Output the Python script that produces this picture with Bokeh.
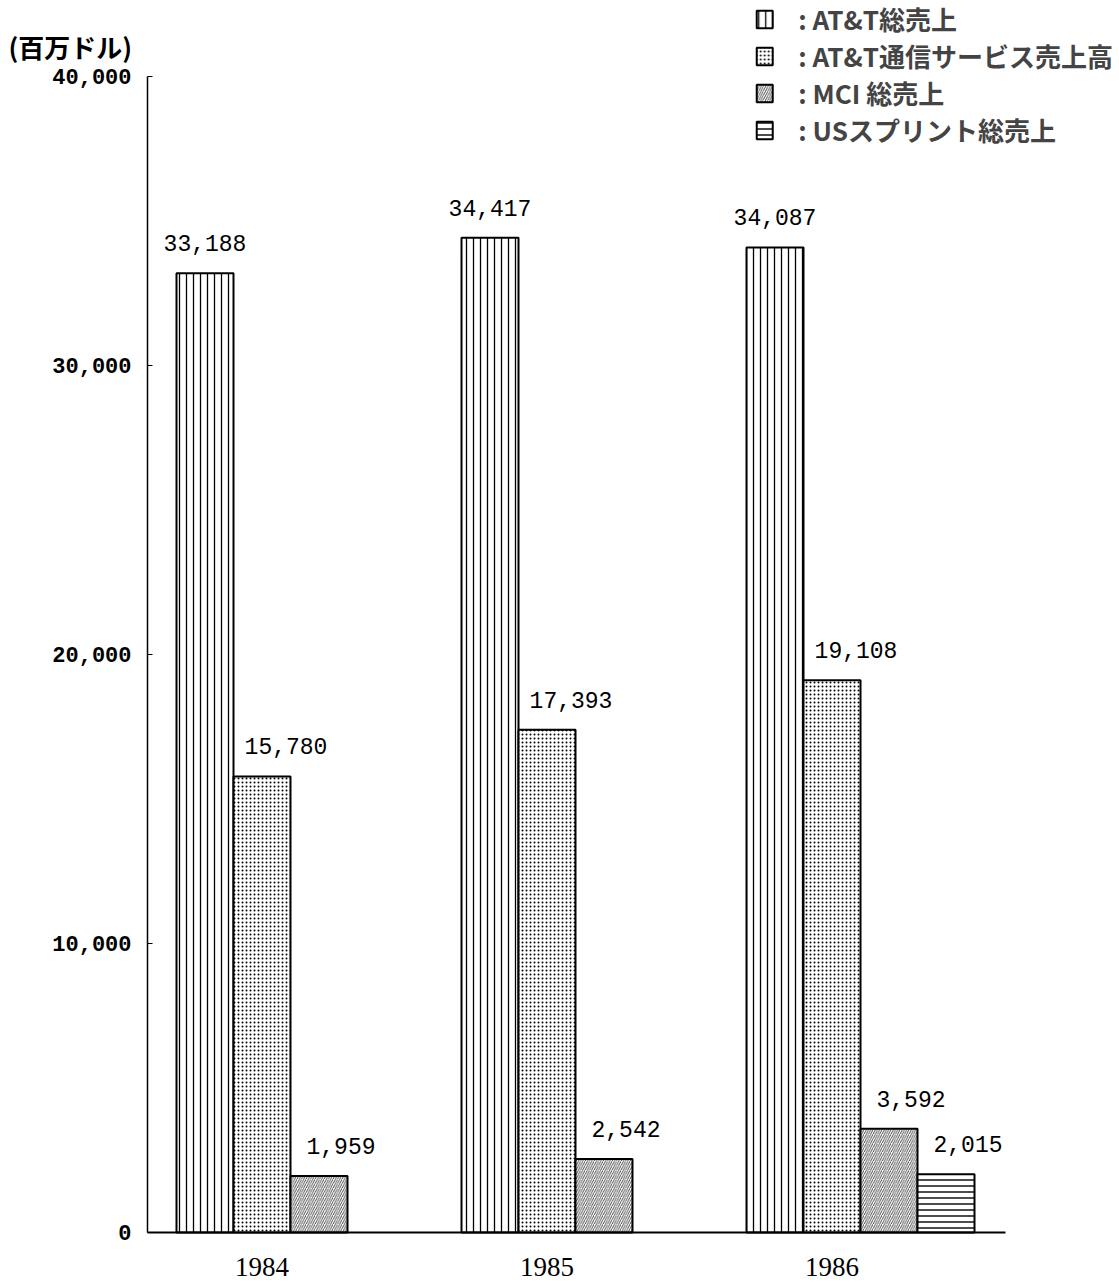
import numpy as np
import pandas as pd
from bokeh.plotting import figure
from bokeh.models import ColumnDataSource, FixedTicker, Legend, LegendItem
from bokeh.core.properties import value
from bokeh.embed import file_html
from bokeh.resources import INLINE

# ---------------- data ----------------
years = ["1984", "1985", "1986"]
att_total = [33188, 34417, 34087]
att_comm = [15780, 17393, 19108]
mci_total = [1959, 2542, 3592]
sprint_total = [np.nan, np.nan, 2015]
series_names = ["AT&T総売上", "AT&T通信サービス売上高", "MCI 総売上", "USスプリント総売上"]
y_ticks = [0, 10000, 20000, 30000, 40000]
y_tick_labels = ["0", "10,000", "20,000", "30,000", "40,000"]
unit_label = "(百万ドル)"

# ---------------- layout ----------------
W, H = 1113, 1283
base_px = 1232.0          # pixel row of value 0
val_per_px = 10000 / 289.0
px_per_unit = 57.0
first_bar_px = 176.0
x0 = -first_bar_px / px_per_unit
x1 = x0 + W / px_per_unit
axis_x = (147.0 - first_bar_px) / px_per_unit
y0 = -(H - base_px) * val_per_px
y1 = base_px * val_per_px

NUM_FONT = "Liberation Mono"
YEAR_FONT = "Liberation Serif"
JP_FONT = "Noto Sans CJK JP"

p = figure(width=W, height=H, output_backend="svg", toolbar_location=None,
           x_range=(x0, x1), y_range=(y0, y1),
           min_border_left=0, min_border_right=0, min_border_top=0,
           min_border_bottom=0, background_fill_color="white",
           border_fill_color="white", outline_line_color=None)
p.grid.visible = False

series = [att_total, att_comm, mci_total, sprint_total]
hatches = [("|", 7, 1.3), (".", 4, 1.0), ("/", 4.5, 0.7), ("-", 6, 1.4)]
label_dx = [0, 24, 22, 22]

bar_renderers = []
for k, (vals, (hp, hs, hw)) in enumerate(zip(series, hatches)):
    xs = [5 * g + k + 0.5 for g in range(len(years))]
    src = ColumnDataSource(dict(x=xs, top=vals))
    r = p.vbar(x="x", top="top", width=1.0, bottom=0, source=src,
               fill_color="white", line_color="black", line_width=2,
               hatch_pattern=hp, hatch_scale=hs, hatch_weight=hw,
               hatch_color="black")
    bar_renderers.append(r)
    lx, ly, lt = [], [], []
    for xv, v in zip(xs, vals):
        if v is None or (isinstance(v, float) and np.isnan(v)):
            continue
        lx.append(xv)
        ly.append(v)
        lt.append(f"{int(v):,}")
    lsrc = ColumnDataSource(dict(x=lx, y=ly, t=lt))
    p.text(x="x", y="y", text="t", source=lsrc, x_offset=label_dx[k], y_offset=-22,
           text_align="center", text_baseline="bottom",
           text_font=value(NUM_FONT), text_font_size="23px", text_color="black")

# y axis (drawn at a fixed location inside the frame)
yax = p.yaxis[0]
yax.fixed_location = axis_x
yax.ticker = FixedTicker(ticks=y_ticks)
yax.major_label_overrides = {t: l for t, l in zip(y_ticks, y_tick_labels)}
yax.bounds = (0, 40000)
yax.minor_tick_line_color = None
yax.major_tick_in = 5
yax.major_tick_out = 0
yax.axis_line_width = 1.5
yax.major_label_standoff = 16
yax.major_label_text_font = NUM_FONT
yax.major_label_text_font_size = "22px"
yax.major_label_text_font_style = "bold"
yax.major_label_text_color = "black"

# x axis (baseline at value 0)
xax = p.xaxis[0]
xax.fixed_location = 0
x_centers = [5 * g + 1.5 for g in range(len(years))]
xax.ticker = FixedTicker(ticks=x_centers)
xax.major_label_overrides = {t: y for t, y in zip(x_centers, years)}
xax.bounds = (axis_x, 14.54)
xax.major_tick_line_color = None
xax.minor_tick_line_color = None
xax.axis_line_width = 2
xax.major_label_standoff = 19
xax.major_label_text_font = YEAR_FONT
xax.major_label_text_font_size = "27px"
xax.major_label_text_color = "black"

# unit label, top-left of the value axis
p.text(x=[x0 + 8.0 / px_per_unit], y=[(base_px - 46) * val_per_px], text=[unit_label],
       text_font=value(JP_FONT), text_font_size="26px", text_font_style="bold",
       text_baseline="middle", text_align="left", text_color="black")

# legend
items = [LegendItem(label=": " + n, renderers=[r]) for n, r in zip(series_names, bar_renderers)]
leg = Legend(items=items, location="top_right", margin=0, padding=0,
             glyph_width=20, glyph_height=22, spacing=0, label_standoff=24,
             label_height=20, label_text_line_height=0.9,
             label_text_font=JP_FONT, label_text_font_size="26px",
             label_text_font_style="bold",
             border_line_color=None, background_fill_alpha=0)
p.add_layout(leg)

open("out.html", "w").write(file_html(p, INLINE))
